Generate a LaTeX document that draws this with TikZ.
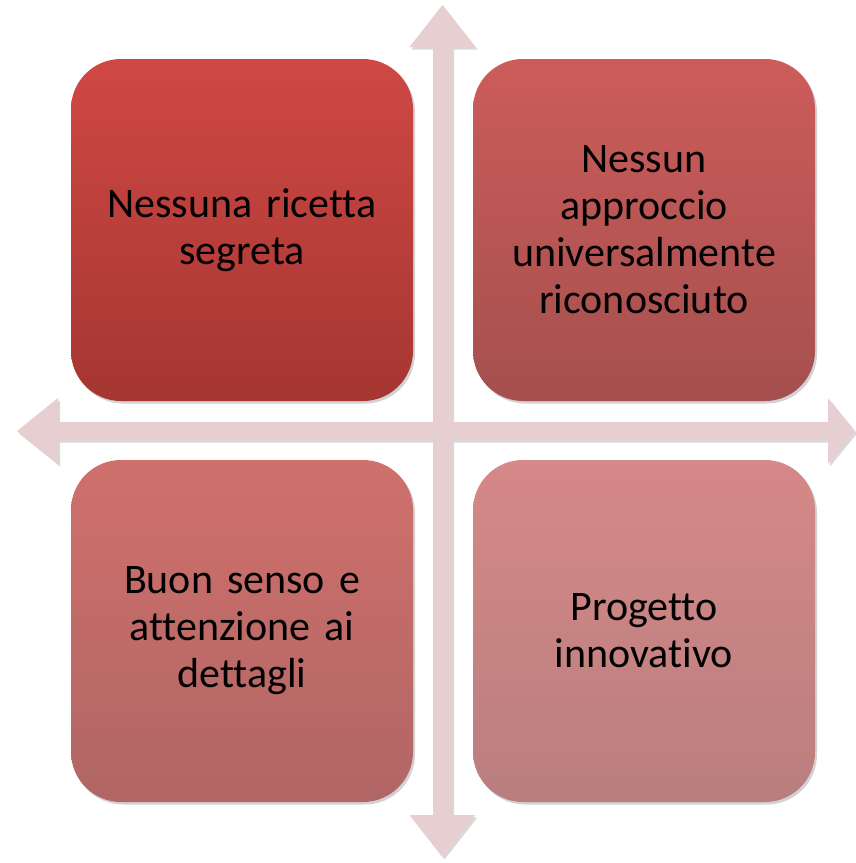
\documentclass[tikz,border=0pt]{standalone}
\usepackage{fontspec}
\setmainfont{Carlito}[Ligatures={NoCommon}]
\usetikzlibrary{shadows}
\definecolor{arrowpink}{RGB}{231,206,208}
\definecolor{tlTop}{RGB}{207,72,68}
\definecolor{tlBot}{RGB}{165,54,50}
\definecolor{trTop}{RGB}{204,92,90}
\definecolor{trBot}{RGB}{164,80,78}
\definecolor{blTop}{RGB}{208,112,108}
\definecolor{blBot}{RGB}{176,102,101}
\definecolor{brTop}{RGB}{213,137,136}
\definecolor{brBot}{RGB}{186,126,126}
\tikzset{
  quad/.style={rounded corners=50pt, minimum width=342pt, minimum height=342pt,
    inner sep=0pt, align=center, text width=330pt,
    font=\fontsize{42}{47}\selectfont, text=black,
    drop shadow={shadow xshift=2pt, shadow yshift=-2.5pt, opacity=0.35}},
  crossarrow/.style={fill=arrowpink, draw=none,
    drop shadow={shadow xshift=2pt, shadow yshift=-2.5pt, opacity=0.3}}
}
\begin{document}
\begin{tikzpicture}[x=1pt,y=-1pt]
\useasboundingbox (0,0) rectangle (856,863);
\fill[white] (0,0) rectangle (856,863);
\node[quad, top color=tlTop, bottom color=tlBot] (tl) at (242,230) {Nessuna ricetta\\segreta};
\node[quad, top color=trTop, bottom color=trBot] (tr) at (644,230) {Nessun\\approccio\\universalmente\\riconosciuto};
\node[quad, top color=blTop, bottom color=blBot] (bl) at (242,631) {Buon senso e\\attenzione ai\\dettagli};
\node[quad, top color=brTop, bottom color=brBot] (br) at (644,631) {Progetto\\innovativo};
\coordinate (ntip) at (442.5,5);
\coordinate (stip) at (442.5,857);
\coordinate (wtip) at (17,431);
\coordinate (etip) at (855,431);
\path[crossarrow]
  (ntip) -- (475.5,47) -- (452,47) -- (452,422) -- (828,422) -- (828,398)
  -- (etip) -- (828,464) -- (828,440) -- (452,440) -- (452,815) -- (475.5,815)
  -- (stip) -- (409.5,815) -- (433,815) -- (433,440) -- (58,440) -- (58,464)
  -- (wtip) -- (58,398) -- (58,422) -- (433,422) -- (433,47) -- (409.5,47) -- cycle;
\end{tikzpicture}
\end{document}
